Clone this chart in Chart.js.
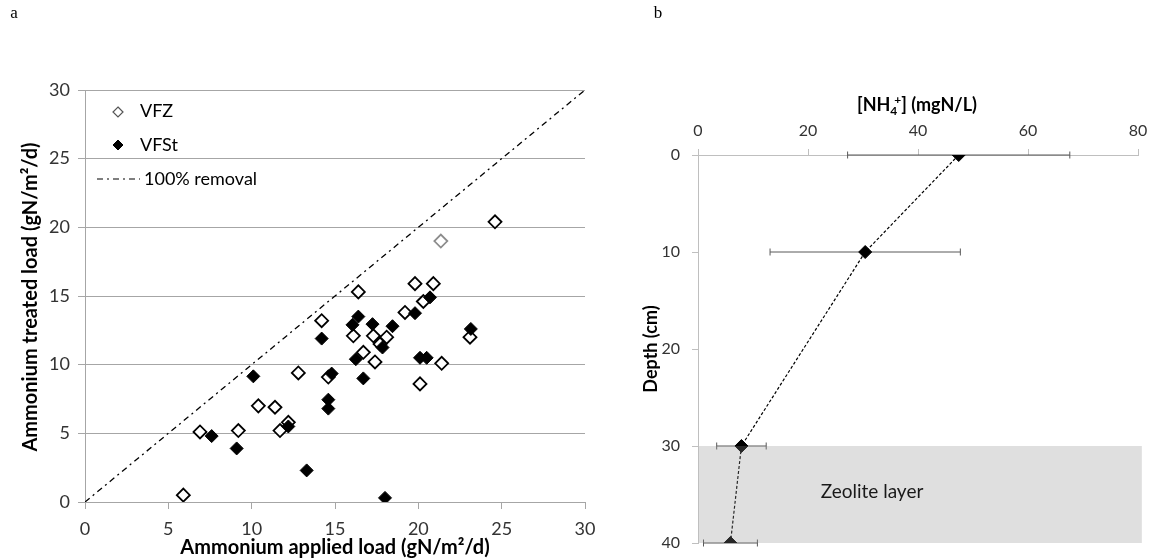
<!DOCTYPE html>
<html>
<head>
<meta charset="utf-8">
<script src="https://cdn.jsdelivr.net/npm/chart.js@4.4.1/dist/chart.umd.min.js"></script>
<style>
  html, body { margin: 0; padding: 0; background: #fff; }
  #chartA { position: absolute; left: 0; top: 0; }
  #chartB { position: absolute; left: 640px; top: 0; }
</style>
</head>
<body>
<canvas id="chartA" width="640" height="559"></canvas>
<canvas id="chartB" width="513" height="559"></canvas>
<script>
// panel a: ammonium applied vs treated load (gN/m2/d)
const vfzApplied = [5.9, 6.9, 9.2, 10.4, 11.4, 11.7, 12.2, 12.8, 14.6, 14.2, 16.1, 16.4, 16.7, 17.3, 17.4, 17.7, 18.1, 19.2, 19.8, 20.1, 20.3, 20.9, 21.35, 21.4, 23.1, 24.6];
const vfzTreated = [0.5, 5.1, 5.2, 7.0, 6.9, 5.2, 5.8, 9.4, 9.1, 13.2, 12.1, 15.3, 10.9, 12.1, 10.2, 11.5, 12.0, 13.8, 15.9, 8.6, 14.6, 15.9, 19.0, 10.1, 12.0, 20.4];
const vfzGreyIndex = 22;
const vfstApplied = [7.6, 9.1, 10.1, 12.2, 13.3, 14.2, 14.6, 14.6, 14.8, 16.05, 16.4, 16.25, 16.7, 17.25, 17.85, 18.45, 19.8, 20.1, 20.5, 20.7, 23.15, 18.0];
const vfstTreated = [4.8, 3.9, 9.15, 5.5, 2.3, 11.9, 7.45, 6.8, 9.35, 12.9, 13.5, 10.4, 9.0, 12.95, 11.25, 12.8, 13.75, 10.5, 10.5, 14.9, 12.6, 0.3];
const removalLine = [0, 30];
const loadTicks = [0, 5, 10, 15, 20, 25, 30];

// panel b: NH4+ profile with depth
const depthCm = [0, 10, 30, 40];
const nh4Mean = [47.4, 30.4, 7.9, 5.9];
const nh4Sd = [20.2, 17.3, 4.5, 4.9];
const concTicks = [0, 20, 40, 60, 80];
const depthTicks = [0, 10, 20, 30, 40];
const zeoliteTop = 30;
const zeoliteBottom = 40;
const zeoliteRight = 80.7;

const FONT = "Lato, 'Open Sans', sans-serif";

function diamond(ctx, x, y, r, fill, stroke, lw) {
    ctx.beginPath();
    ctx.moveTo(x, y - r);
    ctx.lineTo(x + r, y);
    ctx.lineTo(x, y + r);
    ctx.lineTo(x - r, y);
    ctx.closePath();
    if (fill) { ctx.fillStyle = fill; ctx.fill(); }
    if (stroke) { ctx.strokeStyle = stroke; ctx.lineWidth = lw; ctx.stroke(); }
}

function drawText(ctx, text, x, y, font, opts = {}) {
    ctx.save();
    ctx.font = font;
    ctx.fillStyle = opts.color || '#000';
    ctx.textAlign = opts.align || 'center';
    ctx.textBaseline = 'middle';
    ctx.translate(x, y);
    if (opts.rotate) ctx.rotate(opts.rotate);
    ctx.fillText(text, 0, 0);
    ctx.restore();
}

// fixed axis box sizes so the plot areas land where the original has them
function fixBox(size, key) {
    return s => {
        s[key] = size;
        s.paddingTop = 0; s.paddingBottom = 0; s.paddingLeft = 0; s.paddingRight = 0;
    };
}

// extra text and legend for panel a
const panelAText = {
    id: 'panelAText',
    afterDraw(chart) {
        const ctx = chart.ctx;
        drawText(ctx, 'a', 14, 14, "17px 'Liberation Serif', serif");
        drawText(ctx, 'Ammonium treated load (gN/m\u00B2/d)', 31, 297, 'bold 20px ' + FONT, { rotate: -Math.PI / 2 });
        drawText(ctx, 'Ammonium applied load (gN/m\u00B2/d)', 335, 548, 'bold 20px ' + FONT);
        // legend
        diamond(ctx, 118, 112, 5, '#fff', '#555', 1.2);
        drawText(ctx, 'VFZ', 140, 111, '18px ' + FONT, { align: 'left' });
        diamond(ctx, 118, 145, 5, '#000', '#000', 1);
        drawText(ctx, 'VFSt', 140, 145, '18px ' + FONT, { align: 'left' });
        ctx.save();
        ctx.strokeStyle = '#000';
        ctx.lineWidth = 1.2;
        ctx.setLineDash([6, 4, 2, 4]);
        ctx.beginPath();
        ctx.moveTo(97, 179);
        ctx.lineTo(140, 179);
        ctx.stroke();
        ctx.restore();
        drawText(ctx, '100% removal', 144, 179, '18px ' + FONT, { align: 'left' });
    }
};

new Chart(document.getElementById('chartA'), {
    type: 'scatter',
    data: {
        datasets: [
            {
                label: 'VFSt',
                data: vfstApplied.map((x, i) => ({ x, y: vfstTreated[i] })),
                pointStyle: 'rectRot',
                pointRadius: 6.5,
                backgroundColor: '#000',
                borderColor: '#000',
                borderWidth: 1,
                order: 1
            },
            {
                label: 'VFZ',
                data: vfzApplied.map((x, i) => ({ x, y: vfzTreated[i] })),
                pointStyle: 'rectRot',
                pointRadius: 6.5,
                backgroundColor: '#fff',
                borderColor: ctx => ctx.dataIndex === vfzGreyIndex ? '#8c8c8c' : '#000',
                borderWidth: 1.8,
                order: 2
            },
            {
                label: '100% removal',
                type: 'line',
                data: removalLine.map(v => ({ x: v, y: v })),
                borderColor: '#000',
                borderWidth: 1.3,
                borderDash: [6, 4, 2, 4],
                pointRadius: 0,
                fill: false,
                order: 3
            }
        ]
    },
    options: {
        responsive: false,
        animation: false,
        layout: { padding: { top: 90, right: 55, left: 0, bottom: 0 } },
        plugins: { legend: { display: false }, tooltip: { enabled: false } },
        scales: {
            x: {
                type: 'linear', min: 0, max: 30,
                afterFit: fixBox(57, 'height'),
                afterBuildTicks: s => { s.ticks = loadTicks.map(v => ({ value: v })); },
                grid: { drawOnChartArea: false, drawTicks: true, tickLength: 7, color: '#a6a6a6' },
                border: { color: '#a6a6a6' },
                ticks: { font: { family: FONT, size: 18 }, color: '#333', padding: 9, maxRotation: 0 }
            },
            y: {
                type: 'linear', min: 0, max: 30,
                afterFit: fixBox(85, 'width'),
                afterBuildTicks: s => { s.ticks = loadTicks.map(v => ({ value: v })); },
                grid: { color: '#a6a6a6', tickLength: 7 },
                border: { color: '#a6a6a6' },
                ticks: { font: { family: FONT, size: 18 }, color: '#333', padding: 8 }
            }
        }
    },
    plugins: [panelAText]
});

// error bars, zeolite band and text for panel b
const panelBExtras = {
    id: 'panelBExtras',
    beforeDatasetsDraw(chart) {
        const ctx = chart.ctx, xs = chart.scales.x, ys = chart.scales.y;
        ctx.save();
        ctx.strokeStyle = '#595959';
        ctx.lineWidth = 1;
        depthCm.forEach((d, i) => {
            const y = ys.getPixelForValue(d);
            const x1 = xs.getPixelForValue(nh4Mean[i] - nh4Sd[i]);
            const x2 = xs.getPixelForValue(nh4Mean[i] + nh4Sd[i]);
            ctx.beginPath();
            ctx.moveTo(x1, y); ctx.lineTo(x2, y);
            ctx.moveTo(x1, y - 3.5); ctx.lineTo(x1, y + 3.5);
            ctx.moveTo(x2, y - 3.5); ctx.lineTo(x2, y + 3.5);
            ctx.stroke();
        });
        ctx.restore();
    },
    afterDatasetsDraw(chart) {
        const ctx = chart.ctx, xs = chart.scales.x, ys = chart.scales.y;
        const x0 = xs.getPixelForValue(0), x1 = xs.getPixelForValue(zeoliteRight);
        const y0 = ys.getPixelForValue(zeoliteTop), y1 = ys.getPixelForValue(zeoliteBottom);
        ctx.save();
        ctx.fillStyle = 'rgba(140, 140, 140, 0.28)';
        ctx.fillRect(x0 + 1, y0, x1 - x0 - 1, y1 - y0);
        ctx.restore();
        drawText(ctx, 'Zeolite layer', 232, 492, '19px ' + FONT, { color: '#1a1a1a' });
    },
    afterDraw(chart) {
        const ctx = chart.ctx;
        drawText(ctx, 'b', 18, 14, "17px 'Liberation Serif', serif");
        drawText(ctx, 'Depth (cm)', 11, 349, 'bold 18px ' + FONT, { rotate: -Math.PI / 2 });
        // "[NH4+] (mgN/L)" with subscript and superscript
        const big = 'bold 18px ' + FONT, small = 'bold 12px ' + FONT;
        ctx.save();
        ctx.font = big;
        const w1 = ctx.measureText('[NH').width;
        const w3 = ctx.measureText('] (mgN/L)').width;
        ctx.font = small;
        const w2 = ctx.measureText('4').width;
        const wp = ctx.measureText('+').width;
        ctx.restore();
        const gap = w2 * 0.55 + wp;
        const x = 277 - (w1 + gap + w3) / 2;
        drawText(ctx, '[NH', x, 105, big, { align: 'left' });
        drawText(ctx, '4', x + w1, 111, small, { align: 'left' });
        drawText(ctx, '+', x + w1 + w2 * 0.55, 100, small, { align: 'left' });
        drawText(ctx, '] (mgN/L)', x + w1 + gap, 105, big, { align: 'left' });
    }
};

new Chart(document.getElementById('chartB'), {
    type: 'scatter',
    data: {
        datasets: [{
            label: 'NH4+',
            data: depthCm.map((d, i) => ({ x: nh4Mean[i], y: d })),
            showLine: true,
            borderColor: '#000',
            borderWidth: 1.2,
            borderDash: [3, 2],
            pointStyle: 'rectRot',
            pointRadius: 6.5,
            pointBackgroundColor: '#000',
            pointBorderColor: '#000',
            pointBorderWidth: 1
        }]
    },
    options: {
        responsive: false,
        animation: false,
        layout: { padding: { top: 0, right: 15, left: 0, bottom: 16 } },
        plugins: { legend: { display: false }, tooltip: { enabled: false } },
        scales: {
            x: {
                type: 'linear', position: 'top', min: 0, max: 80,
                afterFit: fixBox(155, 'height'),
                afterBuildTicks: s => { s.ticks = concTicks.map(v => ({ value: v })); },
                grid: { drawOnChartArea: false, drawTicks: true, tickLength: 6, color: '#bfbfbf' },
                border: { color: '#bfbfbf' },
                ticks: { font: { family: FONT, size: 16 }, color: '#333', padding: 9, maxRotation: 0 }
            },
            y: {
                type: 'linear', reverse: true, min: 0, max: 40,
                afterFit: fixBox(58, 'width'),
                afterBuildTicks: s => { s.ticks = depthTicks.map(v => ({ value: v })); },
                grid: { drawOnChartArea: false, drawTicks: true, tickLength: 6, color: '#bfbfbf' },
                border: { color: '#bfbfbf' },
                ticks: { font: { family: FONT, size: 16 }, color: '#333', padding: 12 }
            }
        }
    },
    plugins: [panelBExtras]
});
</script>
</body>
</html>
